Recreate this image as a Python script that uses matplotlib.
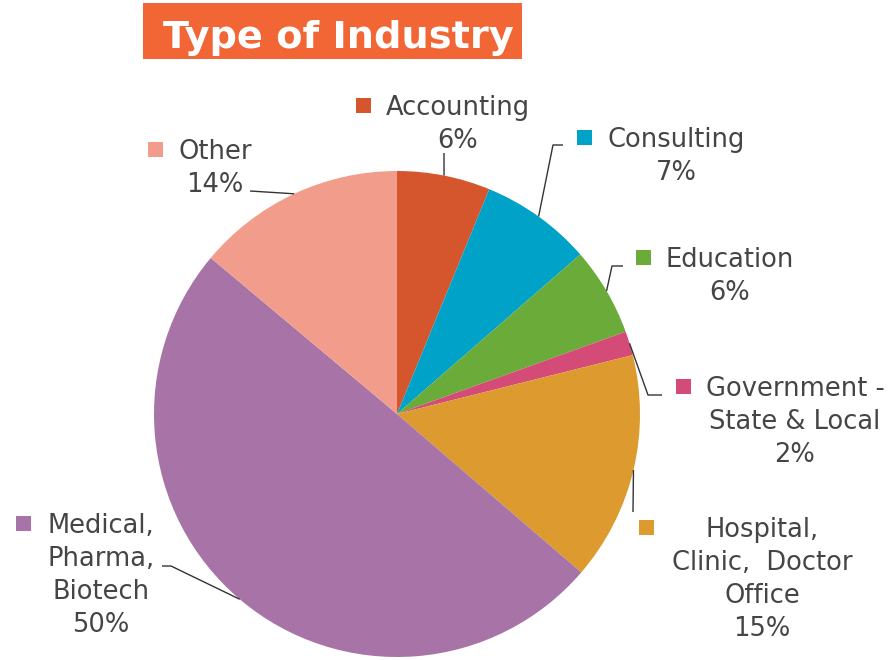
import numpy as np
from matplotlib import pyplot as plt
from matplotlib.patches import Rectangle

# data
industries = ['Accounting', 'Consulting', 'Education', 'Government - State & Local',
              'Hospital, Clinic,  Doctor Office', 'Medical, Pharma, Biotech', 'Other']
shares = [6.2, 7.4, 5.9, 1.6, 15.2, 49.8, 13.9]
colors = ['#D5552C', '#00A3C7', '#6AAB3A', '#D54B78', '#DD9B2F', '#A873A6', '#F29D8B']
label_lines = [
    ['Accounting'],
    ['Consulting'],
    ['Education'],
    ['Government -', 'State & Local'],
    ['Hospital,', 'Clinic,  Doctor', 'Office'],
    ['Medical,', 'Pharma,', 'Biotech'],
    ['Other'],
]

# layout in pixel units (origin top-left); converted below
W, H = 896, 660
CX, CY, R = 397, 414, 243
# (text center x, first baseline y, marker center x)
label_pos = [(458, 115, 363), (676, 147, 584), (730, 267, 643), (795, 396, 683),
             (762, 537, 646), (101, 533, 23), (215, 159, 155)]
# leader line points after the wedge edge point
leaders = [[(444, 153)], [(553, 145), (563, 145)], [(612, 266), (623, 266)],
           [(648, 395), (662, 395)], [(633, 512)], [(171, 566), (162, 566)], [(250, 191)]]
LINE_H = 33
TXT = '#454545'

plt.rcParams['font.family'] = ['DejaVu Sans']

fig = plt.figure(figsize=(W / 100, H / 100), dpi=100)
ax = fig.add_axes([0, 0, 1, 1])
ax.set_xlim(0, W)
ax.set_ylim(0, H)
ax.set_aspect('equal')
ax.axis('off')


def py(y):
    return H - y


wedges, _ = ax.pie(shares, colors=colors, startangle=90, counterclock=False,
                   center=(CX, py(CY)), radius=R, wedgeprops={'linewidth': 0})
ax.set_xlim(0, W)
ax.set_ylim(0, H)

total = sum(shares)
for i, w in enumerate(wedges):
    mid = np.deg2rad((w.theta1 + w.theta2) / 2)
    ex, ey = CX + R * np.cos(mid), py(CY) + R * np.sin(mid)
    xs = [ex] + [p[0] for p in leaders[i]]
    ys = [ey] + [py(p[1]) for p in leaders[i]]
    ax.plot(xs, ys, color='#333333', linewidth=1.0, solid_capstyle='butt')

    tx, ty, mx = label_pos[i]
    lines = label_lines[i] + [f'{shares[i] / total * 100:.0f}%']
    for k, line in enumerate(lines):
        ax.text(tx, py(ty + k * LINE_H), line, ha='center', va='baseline',
                fontsize=18.5, color=TXT)
    ax.add_patch(Rectangle((mx - 7.5, py(ty - 2)), 15, 15, color=colors[i], linewidth=0))

# title box
ax.add_patch(Rectangle((143, py(59)), 379, 56, color='#F26535', linewidth=0))
ax.text(338, py(48), 'Type of Industry', ha='center', va='baseline',
        fontsize=27.5, fontweight='bold', color='white')

plt.savefig('out.png', dpi=100)
